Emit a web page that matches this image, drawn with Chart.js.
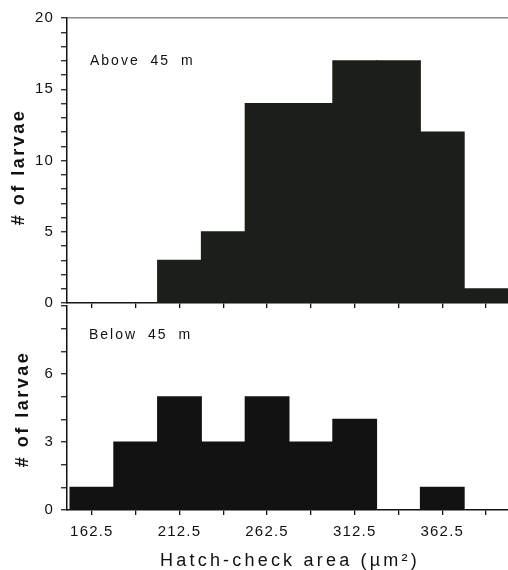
<!DOCTYPE html>
<html>
<head>
<meta charset="utf-8">
<script src="https://cdn.jsdelivr.net/npm/chart.js@4"></script>
<style>
  body { margin: 0; background: #fff; }
  #wrap { position: relative; width: 508px; height: 570px; overflow: hidden; font-family: "Liberation Sans", Arial, sans-serif; color: #111; }
  canvas { position: absolute; left: 0; }
  #above { top: 0; }
  #below { top: 290px; }
  .lbl { position: absolute; white-space: nowrap; }
  .ytitle { font-weight: bold; font-size: 18px; line-height: 18px; letter-spacing: 2.5px; transform: translate(-50%, -50%) rotate(-90deg); }
  .panel { font-size: 14px; line-height: 14px; letter-spacing: 2px; word-spacing: 5px; }
  .xtitle { font-size: 18px; line-height: 18px; letter-spacing: 3.2px; transform: translateX(-50%); }
</style>
</head>
<body>
<div id="wrap">
  <canvas id="above" width="508" height="320"></canvas>
  <canvas id="below" width="508" height="280"></canvas>
  <div class="lbl ytitle" style="left:18px;top:167px"># of larvae</div>
  <div class="lbl ytitle" style="left:22px;top:409px"># of larvae</div>
  <div class="lbl panel" style="left:90px;top:53px">Above 45 m</div>
  <div class="lbl panel" style="left:89px;top:327px">Below 45 m</div>
  <div class="lbl xtitle" style="left:290px;top:551px">Hatch-check area (µm²)</div>
</div>
<script>
'use strict';

// bins are 25 µm² wide, labelled by their centres
const binCenters = [162.5, 187.5, 212.5, 237.5, 262.5, 287.5, 312.5, 337.5, 362.5, 387.5];
const aboveCounts = [0, 0, 3, 5, 14, 14, 17, 17, 12, 1];
const belowCounts = [1, 3, 5, 3, 5, 3, 4, 0, 1, 0];
const xLabels = [162.5, 212.5, 262.5, 312.5, 362.5];
const aboveLabels = [0, 5, 10, 15, 20];
const belowLabels = [0, 3, 6];

const tickFont = { family: '"Liberation Sans", Arial, sans-serif', size: 15 };
const spacing = { id: 'spacing', beforeDraw(chart) { chart.ctx.letterSpacing = '1.2px'; } };

function histogram(canvas, counts, yMax, yLabels, bottomPanel, barColor) {
  return new Chart(canvas, {
    type: 'bar',
    plugins: [spacing],
    data: {
      datasets: [{
        data: binCenters.map((x, i) => ({ x: x, y: counts[i] })),
        backgroundColor: barColor,
        borderWidth: 0,
        inflateAmount: 0.5,
        barPercentage: 1,
        categoryPercentage: 1
      }]
    },
    options: {
      responsive: false,
      animation: false,
      layout: { padding: { top: bottomPanel ? 13 : 18, left: 0, right: 0, bottom: 0 } },
      plugins: { legend: { display: false }, tooltip: { enabled: false } },
      scales: {
        x: {
          type: 'linear', min: 148.3, max: 400, offset: false,
          afterBuildTicks: s => { s.ticks = binCenters.map(v => ({ value: v })); },
          afterFit: s => { s.height = bottomPanel ? 60 : 17; },
          grid: { offset: false, drawOnChartArea: false, tickLength: 5, color: '#111', lineWidth: 1.3 },
          border: { color: '#111', width: 1.5 },
          ticks: {
            display: bottomPanel, autoSkip: false, maxRotation: 0, padding: 8, color: '#111', font: tickFont,
            callback: v => xLabels.includes(v) ? v.toFixed(1) : ''
          }
        },
        y: {
          min: 0, max: yMax,
          afterFit: s => { s.width = 67; },
          grid: {
            tickLength: 6, lineWidth: 1.5, tickWidth: 1.2, tickColor: '#111',
            color: c => (!bottomPanel && c.tick && c.tick.value === yMax) ? '#8a8a8a' : 'rgba(0,0,0,0)'
          },
          border: { color: '#111', width: 1.5 },
          ticks: {
            stepSize: 1, autoSkip: false, padding: 7, color: '#111', font: tickFont,
            callback: v => yLabels.includes(v) ? v : ''
          }
        }
      }
    }
  });
}

histogram(document.getElementById('above'), aboveCounts, 20, aboveLabels, false, '#1c1e1a');
histogram(document.getElementById('below'), belowCounts, 9, belowLabels, true, '#121212');
</script>
</body>
</html>
